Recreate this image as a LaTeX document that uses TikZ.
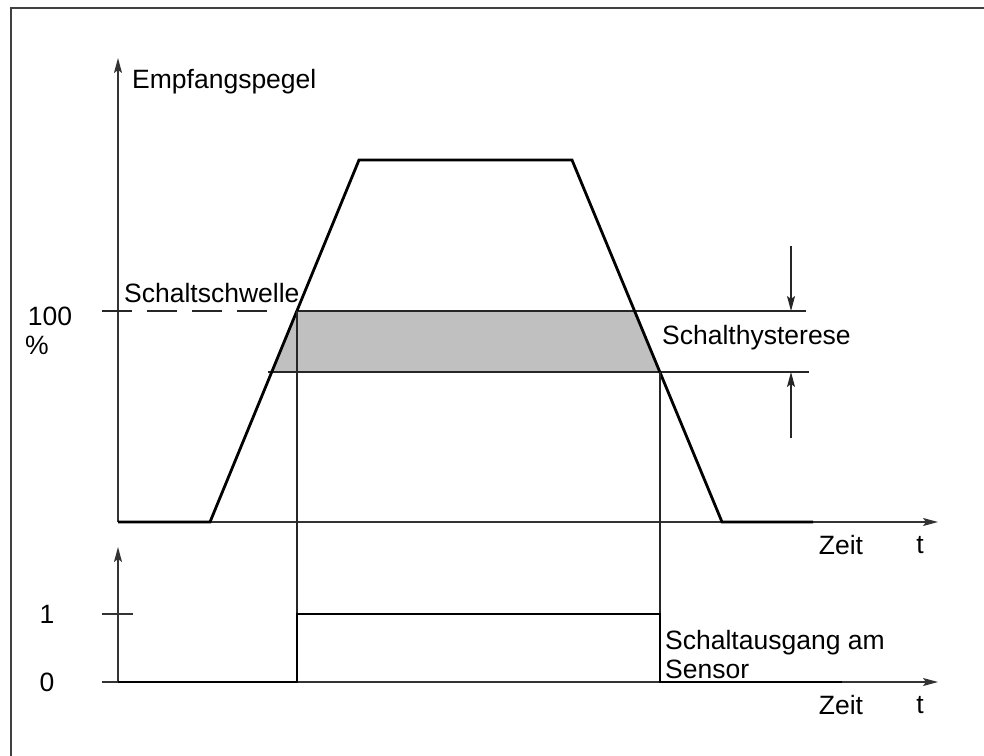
\documentclass[tikz,border=0pt]{standalone}
\usepackage{fontspec}
\setmainfont{Liberation Sans}
\usetikzlibrary{arrows.meta,calc}
\definecolor{hystfill}{RGB}{192,192,192}
\begin{document}
\begin{tikzpicture}[x=1pt,y=-1pt,
  axisline/.style={line width=1.4pt, draw=black!80},
  axisarrow/.style={axisline, -{Stealth[length=15pt,width=8pt,inset=3pt]}},
  dimarrow/.style={line width=1.2pt, draw=black!85, -{Stealth[length=15pt,width=8pt,inset=3pt]}},
  signal/.style={line width=2.8pt, line join=miter},
  guide/.style={line width=1.2pt, draw=black!85},
  frameline/.style={line width=1.5pt, draw=black!75},
  lbl/.style={font=\fontsize{26.5}{30}\selectfont, inner sep=0pt}]
\useasboundingbox (0,0) rectangle (984,755);
\clip (0,0) rectangle (984,755);

% outer frame (open towards right and bottom)
\draw[frameline] (11,770) -- (11,8) -- (1000,8);

% ---------- upper chart: received level ----------
\coordinate (O1) at (118,522);
\coordinate (Y1) at (118,58);
\coordinate (X1) at (938,522);
\coordinate (R0) at (210,522);
\coordinate (R1) at (359,160);
\coordinate (F1) at (572,160);
\coordinate (F0) at (722,522);
\coordinate (E1) at (813,522);
% crossings of the slopes with the two switching levels
\coordinate (RonH) at (296.9,311);
\coordinate (RonL) at (271.7,372);
\coordinate (FonH) at (634.6,311);
\coordinate (FonL) at (659.9,372);

% hysteresis band
\fill[hystfill] (RonH) -- (FonH) -- (FonL) -- (RonL) -- cycle;

% axes
\draw[axisarrow] (O1) -- (Y1);
\draw[axisarrow] (O1) -- (X1);

% threshold and hysteresis levels
\coordinate (DashL) at (102,311);
\coordinate (DashR) at (268,311);
\coordinate (HiEnd) at (806,311);
\coordinate (LoStart) at (268,372);
\coordinate (LoEnd) at (809,372);
\draw[guide, dash pattern=on 30pt off 15pt] (DashL) -- (DashR);
\draw[guide] (RonH) -- (HiEnd);
\draw[guide] (LoStart) -- (LoEnd);

% dimension arrows of the hysteresis
\coordinate (ArrTop) at (791,246);
\coordinate (ArrTopTip) at (791,311);
\coordinate (ArrBot) at (791,438);
\coordinate (ArrBotTip) at (791,372);
\draw[dimarrow] (ArrTop) -- (ArrTopTip);
\draw[dimarrow] (ArrBot) -- (ArrBotTip);

% received signal
\draw[signal] (O1) -- (R0) -- (R1) -- (F1) -- (F0) -- (E1);

% ---------- lower chart: switching output ----------
\coordinate (O2) at (118,682);
\coordinate (Y2) at (118,547);
\coordinate (X2) at (938,682);
\coordinate (Z2) at (102,682);
\coordinate (T1a) at (102,614);
\coordinate (T1b) at (133,614);
\coordinate (Son) at (296.9,682);
\coordinate (SonH) at (296.9,614);
\coordinate (Soff) at (659.9,682);
\coordinate (SoffH) at (659.9,614);
\coordinate (E2) at (842,682);

\draw[axisarrow] (O2) -- (Y2);
\draw[axisarrow] (Z2) -- (X2);
\draw[axisline] (T1a) -- (T1b);

% switching instants projected down
\draw[guide] (RonH) -- (SonH);
\draw[guide] (FonL) -- (SoffH);

\draw[signal] (O2) -- (Son) -- (SonH) -- (SoffH) -- (Soff) -- (E2);

% ---------- labels ----------
\node[lbl, anchor=west] (empf) at (132,82) {Empfangspegel};
\node[lbl, anchor=west] (schw) at (124,293) {Schaltschwelle};
\node[lbl] (hundert) at (50,316) {100};
\node[lbl] (proz) at (37,345) {\%};
\node[lbl, anchor=west] (hyst) at (662,338) {Schalthysterese};
\node[lbl] (zeit1) at (841,545) {Zeit};
\node[lbl] (t1) at (920,545) {t};
\node[lbl] (eins) at (47,614) {1};
\node[lbl] (null) at (47,682) {0};
\node[lbl, anchor=west] (ausg1) at (665,643) {Schaltausgang am};
\node[lbl, anchor=west] (ausg2) at (665,669) {Sensor};
\node[lbl] (zeit2) at (841,705) {Zeit};
\node[lbl] (t2) at (920,705) {t};
\end{tikzpicture}
\end{document}
